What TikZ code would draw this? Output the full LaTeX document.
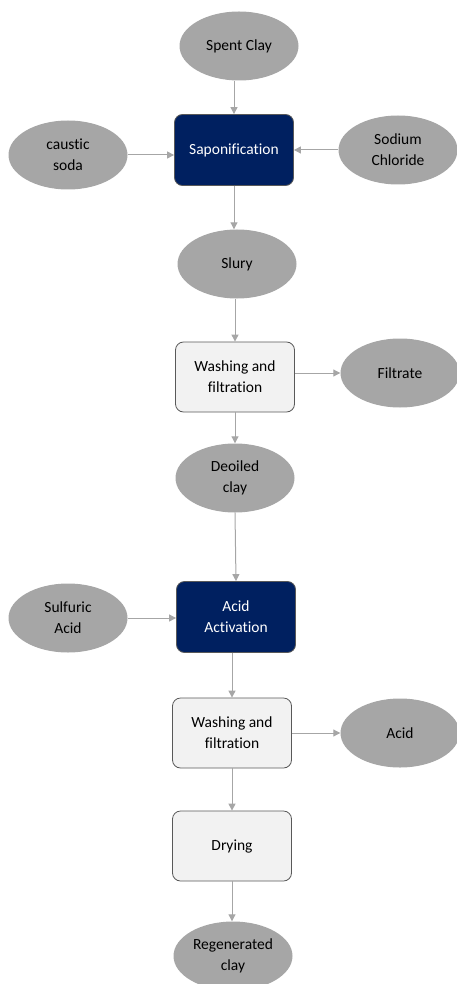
\documentclass[tikz,border=0pt]{standalone}
\usepackage{fontspec}
\setmainfont{Carlito}[Ligatures=NoCommon]
\usetikzlibrary{shapes.geometric,arrows.meta}
\definecolor{ellgray}{HTML}{A6A6A6}
\definecolor{navy}{HTML}{002060}
\definecolor{boxfill}{HTML}{F2F2F2}
\definecolor{boxline}{HTML}{595959}
\definecolor{arrgray}{HTML}{A6A6A6}
\tikzset{
  ell/.style={ellipse, fill=ellgray, draw=none, minimum width=119pt, minimum height=69pt, inner sep=0pt, align=center, font=\fontsize{15.5}{21}\selectfont, text=black},
  darkbox/.style={rectangle, rounded corners=8pt, fill=navy, draw=boxline, line width=0.8pt, minimum width=119pt, minimum height=71pt, inner sep=0pt, align=center, font=\fontsize{15.5}{21}\selectfont, text=white},
  lightbox/.style={rectangle, rounded corners=8pt, fill=boxfill, draw=boxline, line width=0.8pt, minimum width=119pt, minimum height=70pt, inner sep=0pt, align=center, font=\fontsize{15.5}{21}\selectfont, text=black},
  flow/.style={draw=arrgray, line width=1pt, -{Triangle[length=7pt,width=7pt]}},
}
\begin{document}
\begin{tikzpicture}[x=1pt,y=-1pt]
\useasboundingbox (0,0) rectangle (457,984);
\node[ell] (spent) at (239,46) {Spent Clay};
\node[ell] (caustic) at (68,155) {caustic\\soda};
\node[darkbox] (sapon) at (234,150) {Saponification};
\node[ell] (sodium) at (398,150) {Sodium\\Chloride};
\node[ell] (slury) at (237,264) {Slury};
\node[lightbox] (wash1) at (235,377) {Washing and\\filtration};
\node[ell] (filtrate) at (400,373) {Filtrate};
\node[ell] (deoiled) at (235,478) {Deoiled\\clay};
\node[darkbox] (acidact) at (236,617) {Acid\\Activation};
\node[ell] (sulfuric) at (68,618) {Sulfuric\\Acid};
\node[lightbox] (wash2) at (232,733) {Washing and\\filtration};
\node[ell] (acid) at (400,733) {Acid};
\node[lightbox] (drying) at (232,846) {Drying};
\node[ell] (regen) at (233,956) {Regenerated\\clay};

\draw[flow] (spent.south -| sapon.north) -- (sapon.north);
\draw[flow] (caustic.east) -- (caustic.east -| sapon.west);
\draw[flow] (sodium.west) -- (sodium.west -| sapon.east);
\draw[flow] (sapon.south) -- (sapon.south |- slury.north);
\draw[flow] (slury.south -| wash1.north) -- (wash1.north);
\draw[flow] (wash1.east |- filtrate.west) -- (filtrate.west);
\draw[flow] (wash1.south) -- (wash1.south |- deoiled.north);
\draw[flow] (deoiled.south) -- (acidact.north);
\draw[flow] (sulfuric.east) -- (sulfuric.east -| acidact.west);
\draw[flow] (acidact.south -| wash2.north) -- (wash2.north);
\draw[flow] (wash2.east |- acid.west) -- (acid.west);
\draw[flow] (wash2.south) -- (drying.north);
\draw[flow] (drying.south) -- (drying.south |- regen.north);
\end{tikzpicture}
\end{document}
